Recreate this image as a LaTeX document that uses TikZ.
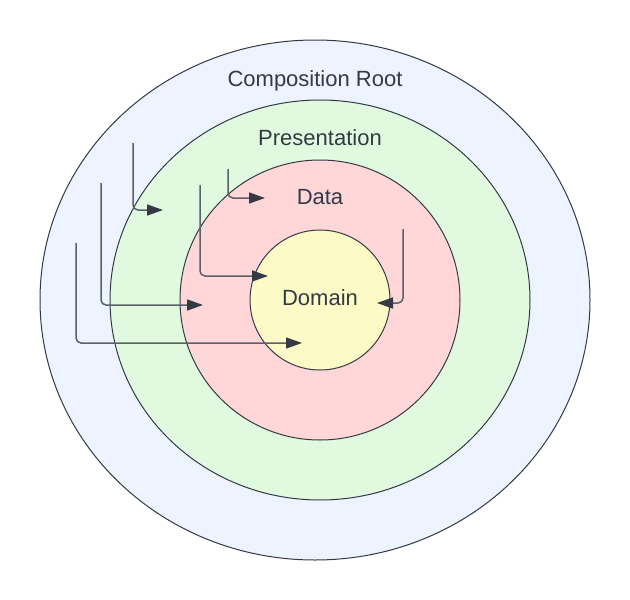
\documentclass[tikz,border=0pt]{standalone}
\usepackage{fontspec}
\setmainfont{Liberation Sans}
\usetikzlibrary{shapes.geometric,arrows.meta}
\definecolor{ringline}{HTML}{333A45}
\definecolor{deplinecol}{HTML}{5B6069}
\definecolor{rootfill}{HTML}{EDF4FF}
\definecolor{presfill}{HTML}{E1FADF}
\definecolor{datafill}{HTML}{FFD7D9}
\definecolor{domfill}{HTML}{FCFBC8}
\begin{document}
\begin{tikzpicture}[x=1pt,y=-1pt, font=\fontsize{22}{26}\selectfont,
  ring/.style={ellipse, draw=ringline, line width=1pt, inner sep=0pt},
  lbl/.style={anchor=base, text=ringline, inner sep=0pt},
  dep/.style={draw=deplinecol, line width=1.5pt, rounded corners=5pt,
    -{Triangle[length=16pt,width=11pt,color=ringline]}}]
\useasboundingbox (0,0) rectangle (630,600);
\node[ring, fill=rootfill, minimum width=550pt, minimum height=520pt] (root) at (315,300){};
\node[ring, fill=presfill, minimum width=420pt, minimum height=400pt] (pres) at (320,300){};
\node[ring, fill=datafill, minimum width=280pt, minimum height=280pt] (data) at (320,300){};
\node[ring, fill=domfill, minimum width=140pt, minimum height=140pt] (dom) at (320,300){};
\node[lbl] (rootlbl) at (315,86){Composition Root};
\node[lbl] (preslbl) at (320,145){Presentation};
\node[lbl] (datalbl) at (320,204){Data};
\node[lbl] (domlbl) at (320,305){Domain};
\coordinate (s1) at (133,143); \coordinate (t1) at (163,210);
\coordinate (s2) at (228,169); \coordinate (t2) at (265,198);
\coordinate (s3) at (101,183); \coordinate (t3) at (203,305);
\coordinate (s4) at (76,243); \coordinate (t4) at (302,343);
\coordinate (s5) at (200,185); \coordinate (t5) at (268,276);
\coordinate (s6) at (403,229); \coordinate (t6) at (377,303);
\draw[dep] (s1) |- (t1);
\draw[dep] (s2) |- (t2);
\draw[dep] (s3) |- (t3);
\draw[dep] (s4) |- (t4);
\draw[dep] (s5) |- (t5);
\draw[dep] (s6) |- (t6);
\end{tikzpicture}
\end{document}
